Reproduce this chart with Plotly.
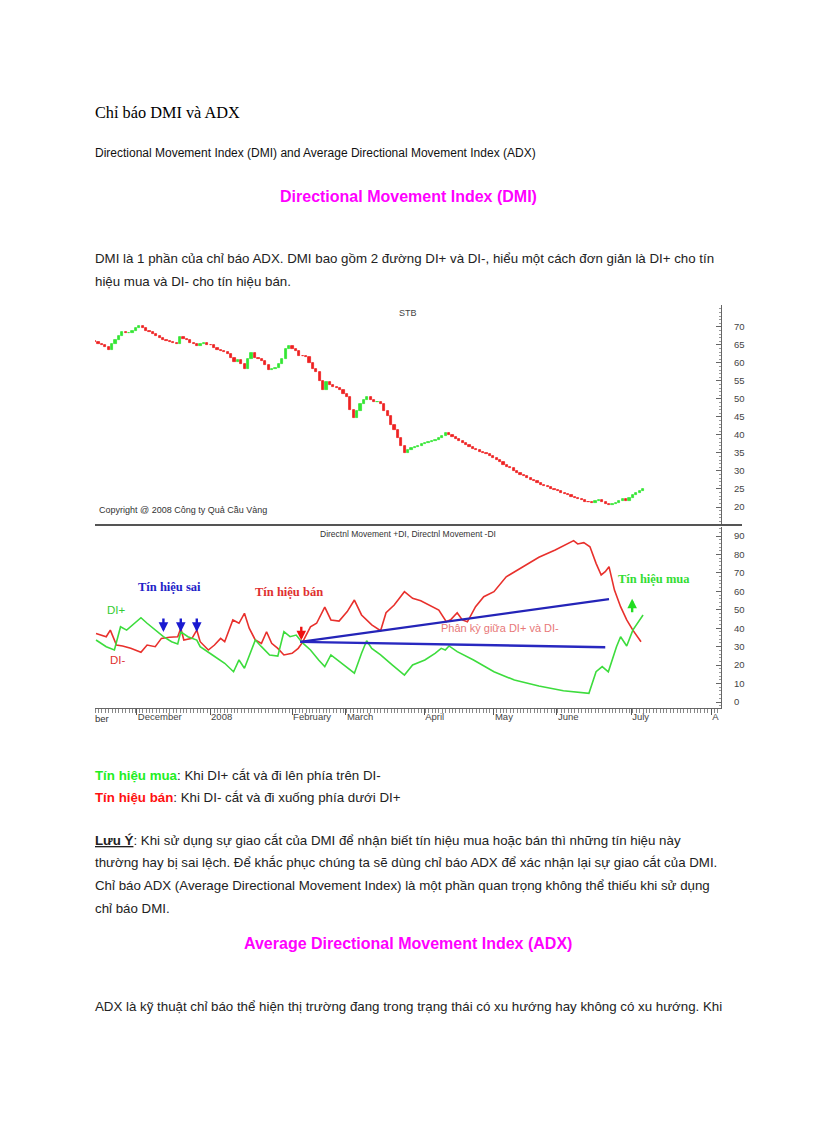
import plotly.graph_objects as go

# page is rendered inside a body with an 8px margin
OFF = 8
W, H = 816 - 2 * OFF, 1123 - 2 * OFF

# ---------------- data ----------------
days = list(range(162))
close = [65.8, 65.4, 65.0, 64.5, 63.6, 65.3, 66.4, 67.6, 68.6, 68.3,
         68.4, 68.9, 69.6, 70.4, 69.6, 68.8, 68.6, 68.1, 67.6, 67.0,
         66.5, 66.1, 65.7, 65.5, 65.3, 67.2, 66.6, 66.3, 65.6, 65.2,
         64.6, 65.3, 65.6, 65.1, 64.9, 64.2, 63.7, 63.4, 63.0, 62.6,
         61.4, 60.3, 60.9, 59.6, 58.4, 61.0, 62.8, 61.4, 61.0, 60.6,
         59.4, 58.0, 58.2, 58.6, 59.8, 61.2, 64.0, 64.6, 64.0, 63.4,
         62.0, 61.9, 61.7, 60.0, 58.4, 57.4, 55.0, 52.4, 54.8, 54.0,
         53.3, 53.0, 52.6, 51.5, 50.5, 47.0, 44.8, 46.6, 48.5, 49.8,
         50.5, 49.6, 49.2, 49.3, 48.5, 46.8, 45.2, 42.9, 41.4, 39.2,
         37.0, 35.0, 35.8, 36.3, 36.6, 37.0, 37.4, 37.7, 38.0, 38.3,
         38.7, 39.1, 39.6, 40.5, 39.9, 39.4, 38.9, 38.4, 37.9, 37.3,
         36.8, 36.2, 35.8, 35.3, 34.9, 34.6, 34.2, 33.7, 33.1, 32.5,
         31.8, 31.2, 30.7, 30.0, 29.5, 29.0, 28.5, 28.0, 27.6, 27.1,
         26.6, 26.2, 25.8, 25.5, 25.1, 24.8, 24.4, 24.0, 23.7, 23.3,
         22.9, 22.6, 22.2, 21.9, 21.5, 21.3, 21.2, 21.6, 21.9, 21.4,
         20.7, 20.5, 20.9, 21.2, 21.6, 22.2, 21.8, 22.5, 23.2, 23.8,
         24.4, 25.1]
first_open = 66.2

di_minus_x = [0.3, 3.3, 4.5, 6.3, 8.1, 10.5, 13.5, 15.3, 17.7, 19.5, 21.9, 24.3, 25.2,
              26.1, 28.5, 29.9, 30.9, 33.3, 35.1, 36.9, 38.1, 40.5, 42.3, 43.9, 45.3,
              47.1, 48.9, 50.4, 51.9, 53.7, 55.5, 57.9, 59.7, 60.9, 63.3, 65.1, 67.5,
              69.3, 71.7, 74.1, 76.2, 78.3, 81.3, 83.9, 85.5, 87.9, 90.9, 93.3, 95.7,
              98.7, 101.0, 103.2, 104.6, 106.4, 107.9, 109.4, 111.8, 114.2, 117.2, 120.8,
              125.6, 130.4, 135.2, 138.8, 140.6, 141.8, 143.6, 145.4, 147.2, 148.7,
              149.9, 151.0, 152.6, 154.4, 156.2, 158.0, 160.4]
di_minus = [37.2, 35.4, 39.0, 30.9, 30.4, 29.1, 27.0, 30.9, 30.0, 34.5, 35.1, 35.4, 40.0,
            33.6, 34.5, 39.0, 32.7, 28.2, 30.9, 34.5, 32.7, 44.5, 42.7, 48.1, 40.0,
            33.6, 31.8, 38.1, 31.8, 29.1, 25.5, 26.4, 29.1, 32.2, 40.8, 42.7, 51.4,
            44.5, 43.9, 49.0, 55.3, 47.2, 41.8, 38.7, 48.4, 52.6, 59.8, 56.2, 54.9,
            52.0, 49.9, 43.5, 44.8, 48.4, 44.5, 43.5, 51.7, 57.1, 59.8, 67.9,
            73.4, 78.5, 82.4, 86.1, 87.5, 85.7, 86.4, 84.2, 75.2, 68.9,
            70.7, 73.4, 60.7, 51.7, 44.5, 39.0, 32.7]

di_plus_x = [0.3, 3.3, 5.7, 7.5, 9.3, 10.5, 11.7, 13.5, 15.3, 17.7, 20.1, 22.5, 24.3,
             25.2, 27.3, 29.9, 30.9, 34.5, 38.1, 40.7, 42.3, 43.9, 45.9, 47.1, 48.9,
             51.3, 53.7, 55.5, 57.3, 59.1, 60.9, 63.3, 65.7, 67.5, 69.3, 71.7, 74.1,
             76.2, 78.3, 79.8, 81.3, 83.9, 87.3, 90.9, 93.3, 96.9, 99.9, 101.7, 102.9,
             104.0, 106.4, 111.2, 117.2, 123.2, 130.4, 137.6, 145.1, 147.2, 149.0,
             150.8, 153.2, 154.4, 156.2, 158.0, 161.0]
di_plus = [33.6, 30.0, 28.2, 40.8, 39.0, 40.8, 42.7, 45.7, 42.7, 39.0, 35.4, 32.7, 31.5,
           38.1, 35.4, 33.6, 30.0, 25.5, 21.0, 16.4, 22.8, 18.3, 27.3, 33.6, 30.0,
           25.5, 24.9, 38.1, 35.4, 36.3, 32.2, 28.2, 22.8, 19.2, 25.5, 21.9, 18.3,
           15.6, 26.4, 33.2, 29.1, 25.5, 20.1, 14.6, 20.1, 22.8, 26.4, 29.1, 28.2,
           30.4, 27.3, 22.8, 16.4, 11.9, 8.7, 6.1, 4.7, 16.4, 19.2,
           16.4, 30.0, 35.4, 30.4, 39.0, 47.2]

trend_upper_x = [60.3, 151.0]
trend_upper_y = [32.6, 55.8]
trend_lower_x = [60.3, 149.9]
trend_lower_y = [32.6, 29.7]

false_signal_days = [20.1, 25.2, 29.9]
sell_signal_day = [60.6]
buy_signal_day = [157.8]

month_ticks = [12.3, 33.8, 57.9, 73.7, 96.7, 117.2, 135.7, 157.5, 181.0]
month_labels = ["December", "2008", "February", "March", "April", "May", "June", "July", "A"]
price_ticks = [20, 25, 30, 35, 40, 45, 50, 55, 60, 65, 70]
dmi_ticks = [0, 10, 20, 30, 40, 50, 60, 70, 80, 90]

# ---------------- helpers ----------------
def X(px):
    return (px - OFF) / W

def Y(py):
    return 1 - (py - OFF) / H

GREEN_C = "#33e633"
RED_C = "#ee2222"
opens = [first_open] + close[:-1]
body = [c - o for o, c in zip(opens, close)]
bar_colors = [GREEN_C if c >= o else RED_C for o, c in zip(opens, close)]

fig = go.Figure()

# price candles (top panel)
fig.add_trace(go.Bar(x=days, y=body, base=opens, width=0.65,
                     marker=dict(color=bar_colors, line=dict(color=bar_colors, width=0.8)),
                     xaxis="x2", yaxis="y2", showlegend=False, hoverinfo="skip"))

# DMI lines (bottom panel)
fig.add_trace(go.Scatter(x=di_minus_x, y=di_minus, mode="lines",
                         line=dict(color="#e8302c", width=1.6), showlegend=False))
fig.add_trace(go.Scatter(x=di_plus_x, y=di_plus, mode="lines",
                         line=dict(color="#3ddc3d", width=1.6), showlegend=False))
fig.add_trace(go.Scatter(x=trend_upper_x, y=trend_upper_y, mode="lines",
                         line=dict(color="#2424b8", width=2.2), showlegend=False))
fig.add_trace(go.Scatter(x=trend_lower_x, y=trend_lower_y, mode="lines",
                         line=dict(color="#2828c0", width=2.4), showlegend=False))

annotations = []

def txt(px, py, text, size, color="#000", family="Liberation Sans", xanchor="left"):
    if xanchor == "left":
        px -= 2
    annotations.append(dict(x=X(px), y=Y(py), xref="paper", yref="paper", text=text,
                            showarrow=False, xanchor=xanchor, yanchor="middle",
                            font=dict(size=size, color=color, family=family)))

BODY = 13.3
# page text
txt(95, 113, "Chỉ báo DMI và ADX", 16.3, "#000", "Liberation Serif")
txt(95, 153, "Directional Movement Index (DMI) and Average Directional Movement Index (ADX)", 12, "#111")
txt(408, 196, "<b>Directional Movement Index (DMI)</b>", 16, "#ff00ff", xanchor="center")
txt(95, 258, "DMI là 1 phần của chỉ báo ADX. DMI bao gồm 2 đường DI+ và DI-, hiểu một cách đơn giản là DI+ cho tín", BODY, "#222")
txt(95, 282, "hiệu mua và DI- cho tín hiệu bán.", BODY, "#222")
txt(95, 775, "<b><span style='color:#22ee22'>Tín hiệu mua</span></b>: Khi DI+ cắt và đi lên phía trên DI-", BODY, "#222")
txt(95, 797, "<b><span style='color:#ff1111'>Tín hiệu bán</span></b>: Khi DI- cắt và đi xuống phía dưới DI+", BODY, "#222")
txt(95, 840, "<b><u>Lưu Ý</u></b>: Khi sử dụng sự giao cắt của DMI để nhận biết tín hiệu mua hoặc bán thì những tín hiệu này", BODY, "#222")
txt(95, 862, "thường hay bị sai lệch. Để khắc phục chúng ta sẽ dùng chỉ báo ADX để xác nhận lại sự giao cắt của DMI.", BODY, "#222")
txt(95, 886, "Chỉ báo ADX (Average Directional Movement Index) là một phần quan trọng không thể thiếu khi sử dụng", BODY, "#222")
txt(95, 908, "chỉ báo DMI.", BODY, "#222")
txt(408, 943, "<b>Average Directional Movement Index (ADX)</b>", 16, "#ff00ff", xanchor="center")
txt(95, 1006, "ADX là kỹ thuật chỉ báo thể hiện thị trường đang trong trạng thái có xu hướng hay không có xu hướng. Khi", BODY, "#222")

# chart texts
txt(408, 313, "STB", 9, "#444", xanchor="center")
txt(99, 510, "Copyright @ 2008 Công ty Quả Cầu Vàng", 9, "#333")
txt(408, 534, "Directnl Movement +DI, Directnl Movement -DI", 8.5, "#333", xanchor="center")
txt(95, 718, "ber", 9.5, "#333")

def dtxt(xv, yv, text, size, color, family="Liberation Sans", xanchor="left"):
    annotations.append(dict(x=xv, y=yv, xref="x", yref="y", text=text, showarrow=False,
                            xanchor=xanchor, yanchor="middle",
                            font=dict(size=size, color=color, family=family)))

dtxt(12.0, 62.5, "<b>Tín hiệu sai</b>", 12.5, "#2222c8", "Liberation Serif")
dtxt(46.5, 59.5, "<b>Tín hiệu bán</b>", 12.5, "#e03030", "Liberation Serif")
dtxt(153.0, 66.5, "<b>Tín hiệu mua</b>", 12.5, "#33dd33", "Liberation Serif")
dtxt(3.0, 50.0, "DI+", 11.5, "#33cc33")
dtxt(3.8, 23.0, "DI-", 11.5, "#e03030")
dtxt(101.0, 40.2, "Phân kỳ giữa DI+ và DI-", 11, "#e87878")

# signal arrows
for d in false_signal_days:
    annotations.append(dict(x=d, y=38.0, xref="x", yref="y", ax=0, ay=-15, showarrow=True,
                            arrowhead=2, arrowsize=0.8, arrowwidth=2.4, arrowcolor="#1a1ad0", text=""))
for d in sell_signal_day:
    annotations.append(dict(x=d, y=33.5, xref="x", yref="y", ax=0, ay=-15, showarrow=True,
                            arrowhead=2, arrowsize=0.8, arrowwidth=2.4, arrowcolor="#ee1111", text=""))
for d in buy_signal_day:
    annotations.append(dict(x=d, y=56.0, xref="x", yref="y", ax=0, ay=15, showarrow=True,
                            arrowhead=2, arrowsize=0.8, arrowwidth=2.4, arrowcolor="#22dd22", text=""))

shapes = [dict(type="line", xref="paper", yref="paper", x0=X(95), x1=X(742),
               y0=Y(525), y1=Y(525), line=dict(color="#555", width=2))]

axis_font = dict(size=9.5, color="#444", family="Liberation Sans")

fig.update_layout(
    width=W, height=H,
    margin=dict(l=0, r=0, t=0, b=0),
    paper_bgcolor="white", plot_bgcolor="white",
    showlegend=False, bargap=0,
    annotations=annotations, shapes=shapes,
    xaxis=dict(domain=[X(95), X(721)], range=[0, 183.9], anchor="y",
               tickmode="array", tickvals=month_ticks, ticktext=month_labels,
               ticks="outside", ticklen=6, tickcolor="#555", tickwidth=1,
               ticklabelposition="outside right", tickfont=axis_font,
               showline=True, linecolor="#666", linewidth=1,
               showgrid=False, zeroline=False,
               minor=dict(ticks="outside", ticklen=4, tickmode="linear", tick0=0, dtick=1,
                          tickcolor="#888", showgrid=False)),
    yaxis=dict(domain=[Y(708), Y(527)], range=[-3.25, 94.9], anchor="x", side="right",
               tickmode="array", tickvals=dmi_ticks, ticks="inside", ticklen=5,
               tickcolor="#666", tickfont=axis_font, ticklabelstandoff=10,
               showline=True, linecolor="#666", linewidth=1, showgrid=False, zeroline=False,
               minor=dict(ticks="inside", ticklen=2, tickmode="linear", tick0=0, dtick=2,
                          tickcolor="#999", showgrid=False)),
    xaxis2=dict(domain=[X(95), X(721)], matches="x", anchor="y2", visible=False),
    yaxis2=dict(domain=[Y(525), Y(305)], range=[15, 76.1], anchor="x2", side="right",
                tickmode="array", tickvals=price_ticks, ticks="inside", ticklen=5,
                tickcolor="#666", tickfont=axis_font, ticklabelstandoff=10,
                showline=True, linecolor="#666", linewidth=1, showgrid=False, zeroline=False,
                minor=dict(ticks="inside", ticklen=2, tickmode="linear", tick0=0, dtick=1,
                           tickcolor="#999", showgrid=False)),
)

fig.write_html("out.html")
